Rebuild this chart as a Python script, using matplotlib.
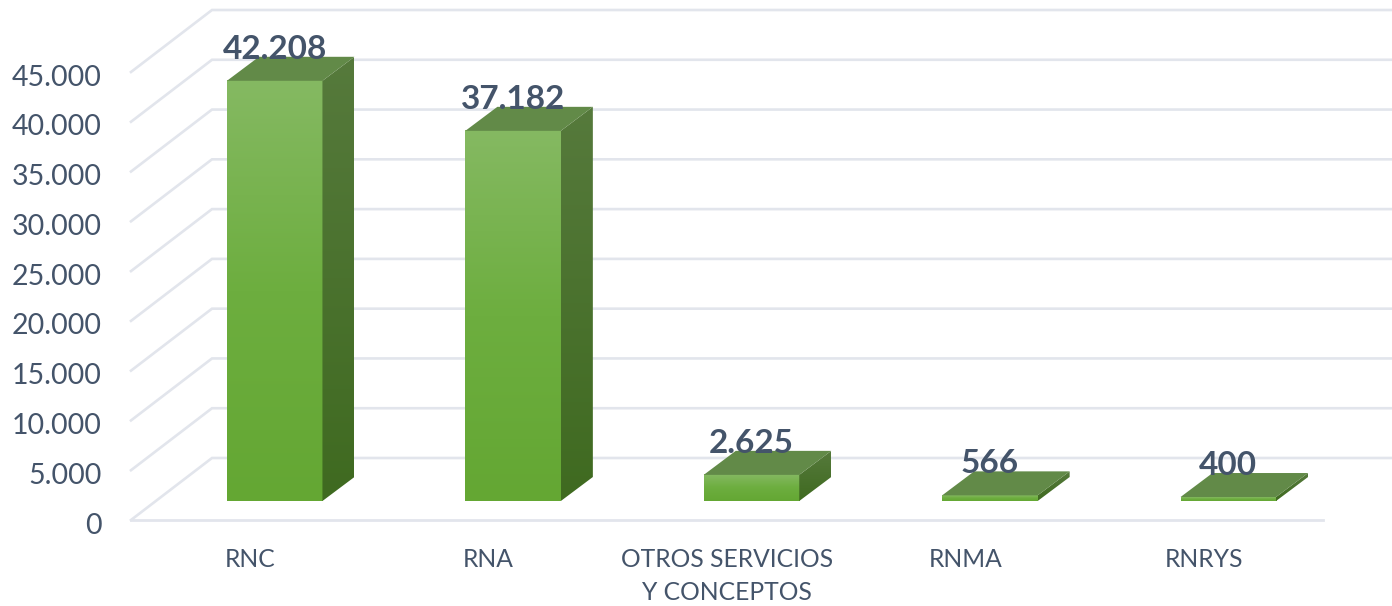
import numpy as np
import matplotlib
matplotlib.use("Agg")
import matplotlib.pyplot as plt
from matplotlib.patches import Polygon
from matplotlib.colors import LinearSegmentedColormap
from matplotlib.transforms import ScaledTranslation

categories = ["RNC", "RNA", "OTROS SERVICIOS\nY CONCEPTOS", "RNMA", "RNRYS"]
values = [42208, 37182, 2625, 566, 400]
value_labels = ["42.208", "37.182", "2.625", "566", "400"]
tick_values = [0, 5000, 10000, 15000, 20000, 25000, 30000, 35000, 40000, 45000]
tick_labels = ["0", "5.000", "10.000", "15.000", "20.000", "25.000", "30.000", "35.000", "40.000", "45.000"]

TEXT = "#44546A"
GRID = "#E2E5EC"
plt.rcParams["font.family"] = ["Lato", "DejaVu Sans"]

W, H = 1392, 606
fig = plt.figure(figsize=(W / 100, H / 100), dpi=100)
L, R, B, T = 131, 1323, 520, 72
ax = fig.add_axes([L / W, (H - B) / H, (R - L) / W, (B - T) / H])
ax.set_xlim(-0.5, 4.5)
ax.set_ylim(0, 45000)
ax.patch.set_visible(False)
for s in ("top", "left", "right"):
    ax.spines[s].set_visible(False)
ax.spines["bottom"].set_color(GRID)
ax.spines["bottom"].set_linewidth(2)

px = (R - L) / 5            # pixels per category
py = (B - T) / 45000        # pixels per value unit
ox = lambda p: p / px       # pixel offset to data x
oy = lambda p: p / py       # pixel offset to data y

ax.set_xticks(range(5), categories, color=TEXT, fontsize=17.7, linespacing=1.52)
ax.set_yticks(tick_values, tick_labels, color=TEXT, fontsize=20.5)
ax.tick_params(axis="x", length=0, pad=20)
ax.tick_params(axis="y", length=0, pad=21)
down = ScaledTranslation(0, -3 / 100, fig.dpi_scale_trans)
for lab in ax.get_yticklabels():
    lab.set_transform(lab.get_transform() + down)

# receding gridlines
wx, wy = ox(81), oy(62)
for v in tick_values:
    ax.plot([-0.5, -0.5 + wx, 4.5 + wx], [v, v + wy, v + wy], color=GRID, lw=1.9,
            clip_on=False, zorder=1, solid_joinstyle="miter")

front_cmap = LinearSegmentedColormap.from_list("f", ["#85B962", "#6DAE3F", "#64A733"])
side_cmap = LinearSegmentedColormap.from_list("s", ["#567A3C", "#3F6A20"])
grad = np.linspace(0, 1, 256).reshape(-1, 1)

bw = ox(95.5)
shift_x, shift_y = ox(24.5), oy(19)
dx, dy = ox(32), oy(24)
for i, v in enumerate(values):
    x0 = i + shift_x - bw / 2
    x1 = x0 + bw
    y0 = shift_y
    y1 = shift_y + v
    ax.imshow(grad, cmap=front_cmap, extent=[x0, x1, y0, y1], aspect="auto",
              origin="upper", zorder=3, clip_on=False)
    side = Polygon([(x1, y0), (x1 + dx, y0 + dy), (x1 + dx, y1 + dy), (x1, y1)],
                   closed=True, fc="none", ec="none", transform=ax.transData)
    ax.add_patch(side)
    im2 = ax.imshow(grad, cmap=side_cmap, extent=[x1, x1 + dx, y0, y1 + dy], aspect="auto",
                    origin="upper", zorder=3)
    im2.set_clip_box(fig.bbox)
    im2.set_clip_path(side)
    ax.add_patch(Polygon([(x0, y1), (x0 + dx, y1 + dy), (x1 + dx, y1 + dy), (x1, y1)],
                         closed=True, fc="#628A48", ec="none", zorder=4, clip_on=False))
    ax.text(i + shift_x, y1 + oy(31.5), value_labels[i], color=TEXT, fontsize=24,
            fontweight="bold", ha="center", va="center", zorder=5, clip_on=False)

ax.set_xlim(-0.5, 4.5)
ax.set_ylim(0, 45000)
fig.savefig("out.png", dpi=100, facecolor="white")
